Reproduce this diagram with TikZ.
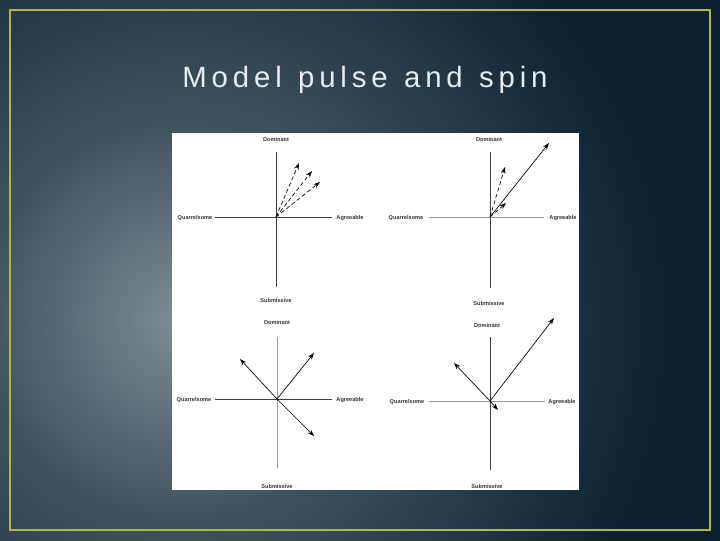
\documentclass[tikz,border=0pt]{standalone}
\usepackage{fontspec}
\setmainfont{Liberation Sans}
\usetikzlibrary{arrows.meta}
\definecolor{bgdark}{HTML}{0B2130}
\definecolor{bgmid}{HTML}{3E525E}
\definecolor{bglight}{HTML}{7E8C94}
\definecolor{frame}{HTML}{B5B542}
\pgfdeclareradialshading{bgs}{\pgfpoint{0bp}{0bp}}{color(0bp)=(bglight); color(7bp)=(bgmid); color(17bp)=(bgdark); color(100bp)=(bgdark)}
\begin{document}
\begin{tikzpicture}[x=0.75pt,y=-0.75pt,
  lbl/.style={font=\fontsize{4.2}{5}\selectfont\bfseries, text=black!80, inner sep=0pt},
  axis/.style={draw=black!75, line width=0.45pt},
  vec/.style={draw=black, line width=0.5pt, -{Stealth[length=5pt,width=3.5pt]}},
  dvec/.style={vec, densely dashed}]
\useasboundingbox (0,0) rectangle (720,540);
\begin{scope}
\clip (0,0) rectangle (720,540);
\shade[shading=bgs] (-540,-400) rectangle (900,1040);
\end{scope}
\draw[frame, line width=2pt] (10,10) rectangle (710,530);
\node[font=\fontsize{22}{24}\selectfont, text=white!92!black] (title) at (365,80) {M\,o\,d\,e\,l\ \ p\,u\,l\,s\,e\ \ a\,n\,d\ \ s\,p\,i\,n};
\fill[white] (172,133) rectangle (579,490);
% panel 1
\coordinate (c1) at (276,217);
\coordinate (t1) at (276,152); \coordinate (b1) at (276,287);
\coordinate (l1) at (215,217); \coordinate (r1) at (332,217);
\draw[axis] (t1) -- (b1); \draw[axis] (l1) -- (r1);
\node[lbl] (d1) at (276,139) {Dominant};
\node[lbl] (q1) at (195,218) {Quarrelsome};
\node[lbl] (a1) at (350,218) {Agreeable};
\node[lbl] (s1) at (276,300) {Submissive};
\coordinate (p1a) at (299,163); \coordinate (p1b) at (312,171); \coordinate (p1c) at (320,182);
\draw[dvec] (c1) -- (p1a); \draw[dvec] (c1) -- (p1b); \draw[dvec] (c1) -- (p1c);
% panel 2
\coordinate (c2) at (490,217);
\coordinate (t2) at (490,152); \coordinate (b2) at (490,288);
\coordinate (l2) at (429,217); \coordinate (r2) at (544,217);
\draw[axis] (t2) -- (b2); \draw[axis,draw=black!40] (l2) -- (r2);
\node[lbl] (d2) at (489,139) {Dominant};
\node[lbl] (q2) at (406,218) {Quarrelsome};
\node[lbl] (a2) at (563,218) {Agreeable};
\node[lbl] (s2) at (489,303) {Submissive};
\coordinate (p2a) at (549,143); \coordinate (p2b) at (505,167); \coordinate (p2c) at (506,203);
\draw[vec] (c2) -- (p2a); \draw[dvec] (c2) -- (p2b); \draw[dvec] (c2) -- (p2c);
% panel 3
\coordinate (c3) at (277,399);
\coordinate (t3) at (277,337); \coordinate (b3) at (277,468);
\coordinate (l3) at (215,399); \coordinate (r3) at (332,399);
\draw[axis,draw=black!40] (t3) -- (b3); \draw[axis] (l3) -- (r3);
\node[lbl] (d3) at (277,322) {Dominant};
\node[lbl] (q3) at (194,400) {Quarrelsome};
\node[lbl] (a3) at (350,400) {Agreeable};
\node[lbl] (s3) at (277,486) {Submissive};
\coordinate (p3a) at (314,353); \coordinate (p3b) at (240,359); \coordinate (p3c) at (314,436);
\draw[vec] (c3) -- (p3a); \draw[vec] (c3) -- (p3b); \draw[vec] (c3) -- (p3c);
% panel 4
\coordinate (c4) at (490,401);
\coordinate (t4) at (490,337); \coordinate (b4) at (490,470);
\coordinate (l4) at (429,401); \coordinate (r4) at (545,401);
\draw[axis] (t4) -- (b4); \draw[axis,draw=black!40] (l4) -- (r4);
\node[lbl] (d4) at (487,325) {Dominant};
\node[lbl] (q4) at (407,402) {Quarrelsome};
\node[lbl] (a4) at (562,402) {Agreeable};
\node[lbl] (s4) at (487,486) {Submissive};
\coordinate (p4a) at (554,318); \coordinate (p4b) at (454,363); \coordinate (p4c) at (498,410);
\draw[vec] (c4) -- (p4a); \draw[vec] (c4) -- (p4b); \draw[vec] (c4) -- (p4c);
\end{tikzpicture}
\end{document}
